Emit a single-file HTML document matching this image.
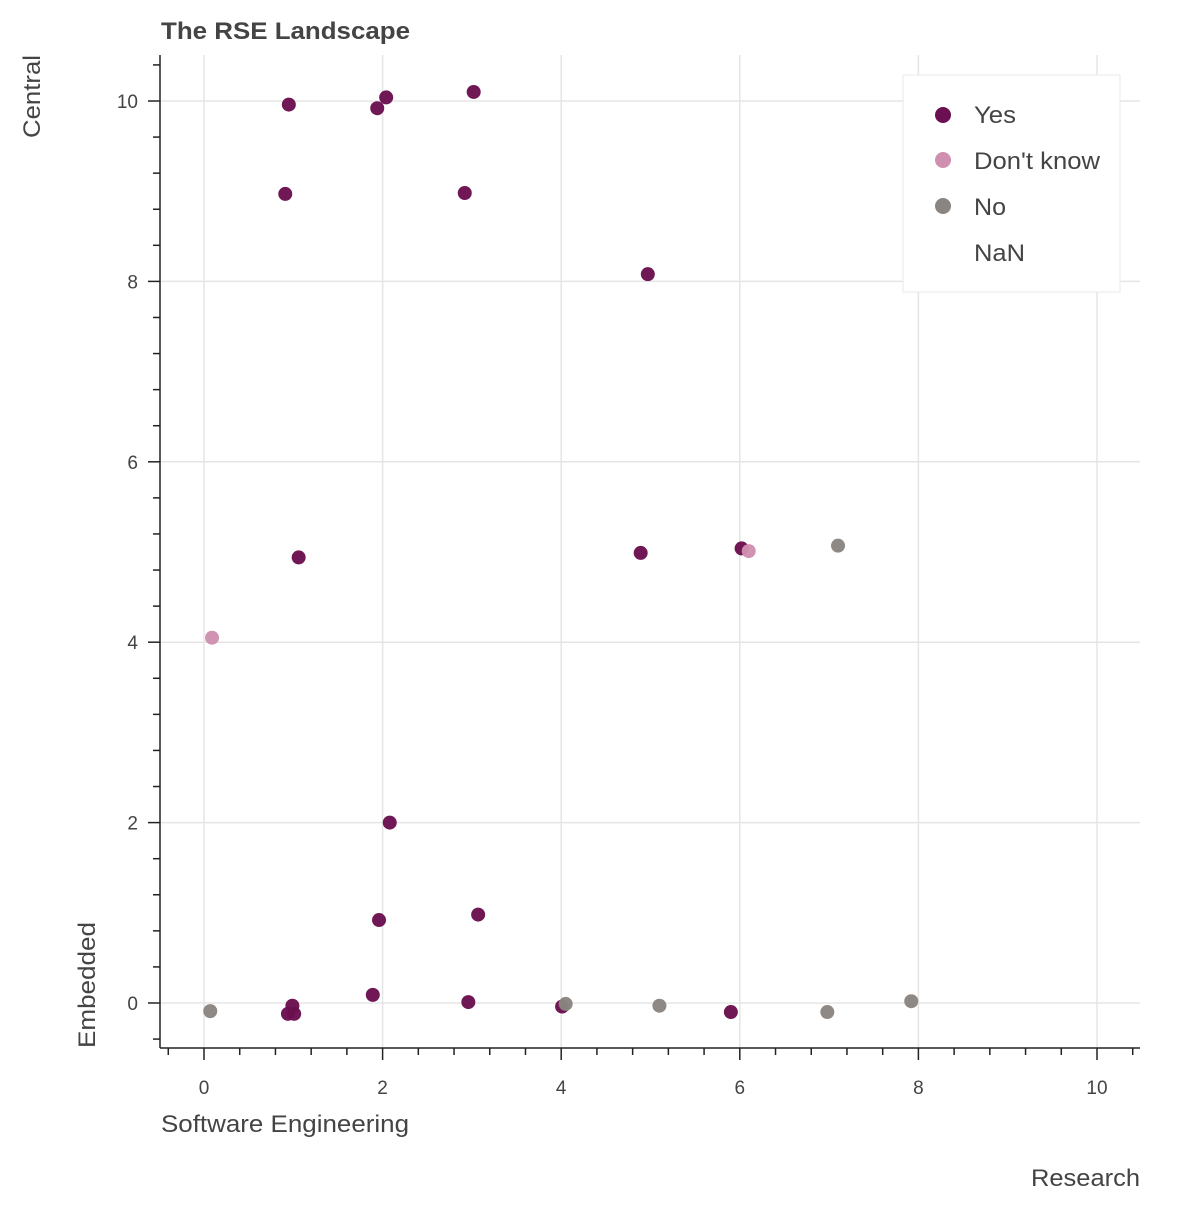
<!DOCTYPE html>
<html><head><meta charset="utf-8"><style>
html,body{margin:0;padding:0;background:#fff;}
svg text{font-family:"Liberation Sans",Helvetica,Arial,sans-serif;fill:#444;}
</style></head><body>
<svg id="chart" width="1200" height="1200" viewBox="0 0 1200 1200" xmlns="http://www.w3.org/2000/svg">
<text x="161" y="39" font-size="24" font-weight="bold" textLength="249" lengthAdjust="spacingAndGlyphs">The RSE Landscape</text>
<g id="grid"></g>
<g id="axes"></g>
<g id="points"></g>
<text transform="translate(40,138) rotate(-90)" font-size="24" text-anchor="start" textLength="83" lengthAdjust="spacingAndGlyphs">Central</text>
<text transform="translate(95,1048) rotate(-90)" font-size="24" text-anchor="start" textLength="126" lengthAdjust="spacingAndGlyphs">Embedded</text>
<text x="161" y="1132" font-size="24" textLength="248" lengthAdjust="spacingAndGlyphs">Software Engineering</text>
<text x="1031" y="1186" font-size="24" textLength="109" lengthAdjust="spacingAndGlyphs">Research</text>
<g>
<rect x="903" y="75" width="217" height="217" fill="#fff" stroke="#eaeaea" stroke-width="1"/>
<circle cx="943" cy="115" r="8" fill="#6b1050"/>
<text x="974" y="123" font-size="24" textLength="42" lengthAdjust="spacingAndGlyphs">Yes</text>
<circle cx="943" cy="160" r="8" fill="#cf8fb0"/>
<text x="974" y="169" font-size="24" textLength="126" lengthAdjust="spacingAndGlyphs">Don't know</text>
<circle cx="943" cy="206" r="8" fill="#8a8580"/>
<text x="974" y="215" font-size="24" textLength="32" lengthAdjust="spacingAndGlyphs">No</text>
<text x="974" y="261" font-size="24" textLength="51" lengthAdjust="spacingAndGlyphs">NaN</text>
</g>
</svg>
<script>
const yesX=[0.95,1.94,2.04,3.02,0.91,2.92,4.97,1.06,4.89,6.02,2.08,1.96,3.07,1.89,2.96,0.99,0.94,1.01,4.01,5.90];
const yesY=[9.96,9.92,10.04,10.10,8.97,8.98,8.08,4.94,4.99,5.04,2.0,0.92,0.98,0.09,0.01,-0.03,-0.12,-0.12,-0.04,-0.10];
const dkX=[6.10,0.09];
const dkY=[5.01,4.05];
const noX=[7.10,0.07,4.05,5.10,6.98,7.92];
const noY=[5.07,-0.09,-0.01,-0.03,-0.10,0.02];
const xTicks=[0,2,4,6,8,10];
const yTicks=[0,2,4,6,8,10];
const NS='http://www.w3.org/2000/svg';
const L=160,R=1140,T=55,B=1048;
function sx(v){return 204+v*89.3;}
function sy(v){return 1003-v*90.2;}
function mk(tag,attrs,parent){const e=document.createElementNS(NS,tag);for(const k in attrs)e.setAttribute(k,attrs[k]);parent.appendChild(e);return e;}
const grid=document.getElementById('grid'),axes=document.getElementById('axes'),pts=document.getElementById('points');
xTicks.forEach(v=>{const l=mk('line',{x1:sx(v),x2:sx(v),y1:T,y2:B,stroke:'#e5e5e5','stroke-width':1.5},grid);

});
yTicks.forEach(v=>{const l=mk('line',{x1:L,x2:R,y1:sy(v),y2:sy(v),stroke:'#e5e5e5','stroke-width':1.5},grid);

});
const xa=mk('line',{x1:L,x2:R,y1:B,y2:B,stroke:'#222','stroke-width':1.5},axes);


const ya=mk('line',{x1:L,x2:L,y1:T,y2:B,stroke:'#222','stroke-width':1.5},axes);


for(let i=-1;i<=26;i++){const v=i*0.4;const x=sx(v);if(x<L||x>R)continue;const maj=Math.abs(v-Math.round(v))<1e-6&&Math.round(v)%2===0;
const t=mk('line',{x1:x,x2:x,y1:B,y2:B+(maj?12:7),stroke:'#222','stroke-width':1.5},axes);

}
for(let i=-1;i<=26;i++){const v=i*0.4;const y=sy(v);if(y<T||y>B)continue;const maj=Math.abs(v-Math.round(v))<1e-6&&Math.round(v)%2===0;
const t=mk('line',{x1:L-(maj?12:7),x2:L,y1:y,y2:y,stroke:'#222','stroke-width':1.5},axes);

}
xTicks.forEach(v=>{const t=mk('text',{x:sx(v),y:B+46,'font-size':19,'text-anchor':'middle'},axes);t.textContent=v;

});
yTicks.forEach(v=>{const t=mk('text',{x:L-22,y:sy(v)+7,'font-size':19,'text-anchor':'end'},axes);t.textContent=v;

});
function series(xs,ys,color,name){xs.forEach((x,i)=>{const c=mk('circle',{cx:sx(x),cy:sy(ys[i]),r:7,fill:color,'fill-opacity':0.97},pts);

});}
series(yesX,yesY,'#6b1050','point-yes');
series(dkX,dkY,'#cf8fb0','point-dont-know');
series(noX,noY,'#8a8580','point-no');
</script>
</body></html>
